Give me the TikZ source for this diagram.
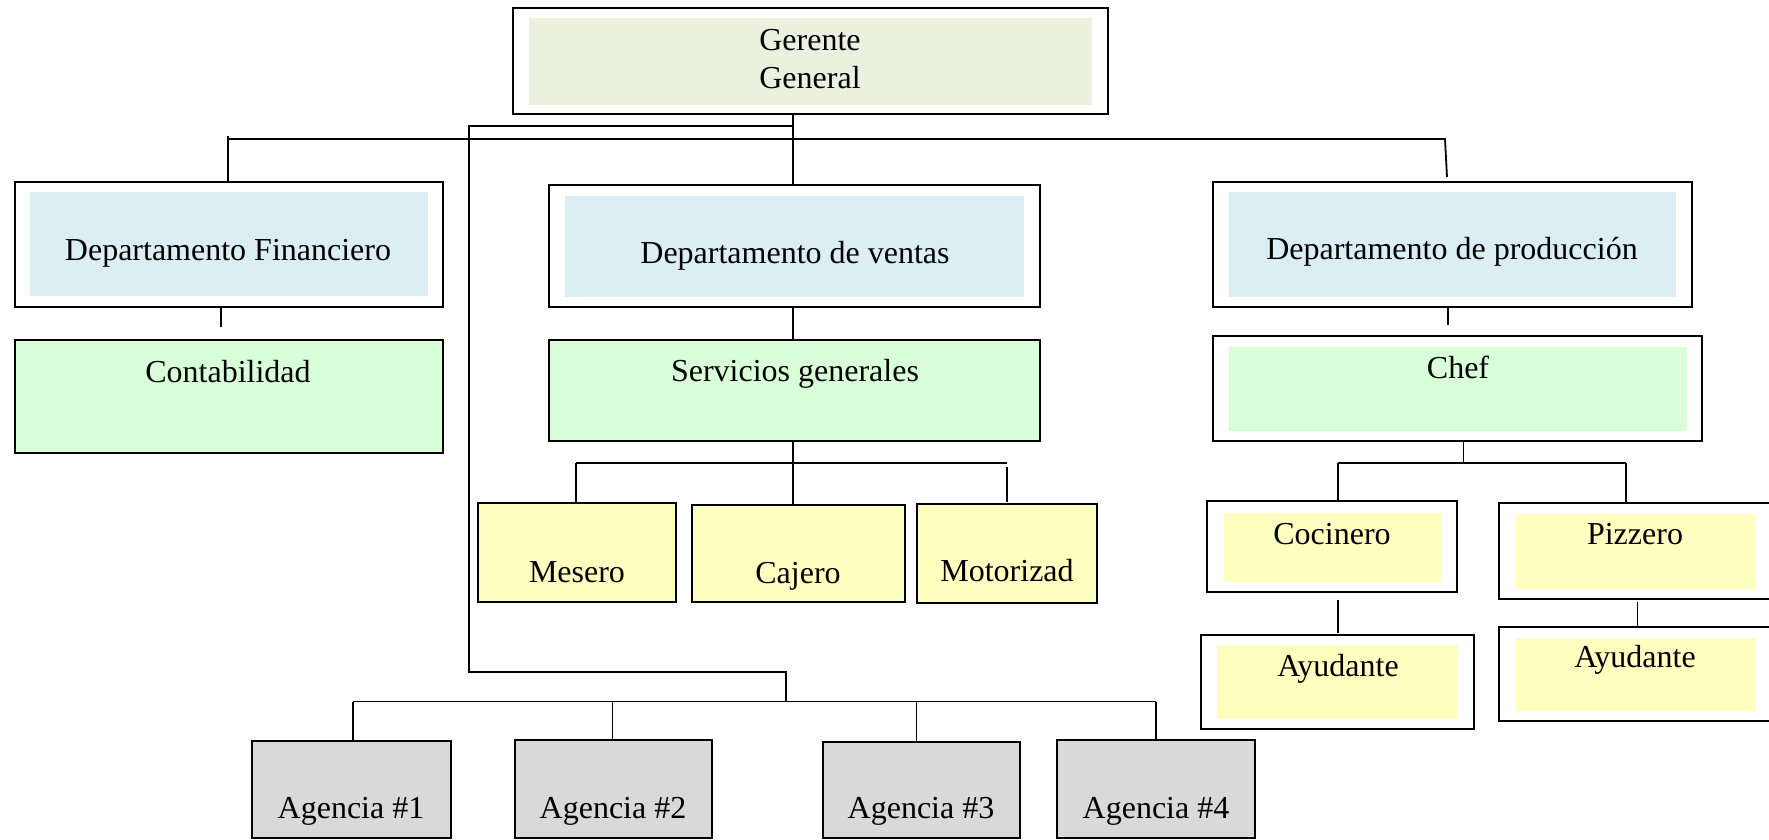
\documentclass[tikz,border=0pt]{standalone}
\usepackage{fontspec}
\setmainfont{Liberation Serif}
\usetikzlibrary{fit}
\definecolor{ggfill}{HTML}{EBF1DE}
\definecolor{bluefill}{HTML}{DAEEF3}
\definecolor{greenfill}{HTML}{D9FFD9}
\definecolor{yellowfill}{HTML}{FFFFC0}
\definecolor{grayfill}{HTML}{D9D9D9}
\tikzset{
  orgbox/.style={draw=black, line width=2pt, inner sep=0pt},
  lbl/.style={inner sep=0pt, font=\fontsize{32}{38.5}\selectfont, align=center},
  conn/.style={draw=black, line width=1.8pt},
}
\begin{document}
\begin{tikzpicture}[x=1pt,y=-1pt]
\useasboundingbox (0,0) rectangle (1769,840);
% inner fills
\fill[ggfill] (529,18) rectangle (1092,105);
\fill[bluefill] (30,192) rectangle (428,296);
\fill[bluefill] (565,196) rectangle (1024,297);
\fill[bluefill] (1229,192) rectangle (1676,297);
\fill[greenfill] (1229,347) rectangle (1687,431);
\fill[yellowfill] (1224,513) rectangle (1441,582);
\fill[yellowfill] (1217,645) rectangle (1458,719);
\fill[yellowfill] (1516,514) rectangle (1756,589);
\fill[yellowfill] (1516,638) rectangle (1756,711);
% boxes
\node[orgbox, fit={(513,8) (1108,114)}] (gg) {};
\node[orgbox, fit={(15,182) (443,307)}] (fin) {};
\node[orgbox, fit={(549,185) (1040,307)}] (ven) {};
\node[orgbox, fit={(1213,182) (1692,307)}] (prod) {};
\node[orgbox, fill=greenfill, fit={(15,340) (443,453)}] (cont) {};
\node[orgbox, fill=greenfill, fit={(549,340) (1040,441)}] (serv) {};
\node[orgbox, fit={(1213,336) (1702,441)}] (chef) {};
\node[orgbox, fill=yellowfill, fit={(478,503) (676,602)}] (mes) {};
\node[orgbox, fill=yellowfill, fit={(692,505) (905,602)}] (caj) {};
\node[orgbox, fill=yellowfill, fit={(917,504) (1097,603)}] (mot) {};
\node[orgbox, fit={(1207,501) (1457,592)}] (coc) {};
\node[orgbox, fit={(1201,635) (1474,729)}] (ay1) {};
\node[orgbox, fit={(1499,503) (1780,599)}] (piz) {};
\node[orgbox, fit={(1499,627) (1780,721)}] (ay2) {};
\node[orgbox, fill=grayfill, fit={(252,741) (451,838)}] (a1) {};
\node[orgbox, fill=grayfill, fit={(515,740) (712,838)}] (a2) {};
\node[orgbox, fill=grayfill, fit={(823,742) (1020,838)}] (a3) {};
\node[orgbox, fill=grayfill, fit={(1057,740) (1255,838)}] (a4) {};
% labels
\node[lbl] (tgg) at (810,59) {Gerente\\General};
\node[lbl] (tfin) at (228,253) {Departamento Financiero};
\node[lbl] (tven) at (795,256) {Departamento de ventas};
\node[lbl] (tprod) at (1452,252) {Departamento de producción};
\node[lbl] (tcont) at (228,372) {Contabilidad};
\node[lbl] (tserv) at (795,374) {Servicios generales};
\node[lbl] (tchef) at (1458,367) {Chef};
\node[lbl] (tmes) at (577,572) {Mesero};
\node[lbl] (tcaj) at (798,576) {Cajero};
\node[lbl] (tmot) at (1007,571) {Motorizad};
\node[lbl] (tcoc) at (1332,534) {Cocinero};
\node[lbl] (tay1) at (1338,669) {Ayudante};
\node[lbl] (tpiz) at (1635,534) {Pizzero};
\node[lbl] (tay2) at (1635,660) {Ayudante};
\node[lbl] (ta1) at (351,811) {Agencia \#1};
\node[lbl] (ta2) at (613,811) {Agencia \#2};
\node[lbl] (ta3) at (921,811) {Agencia \#3};
\node[lbl] (ta4) at (1156,811) {Agencia \#4};
% junction coordinates
\coordinate (jtop) at (793,126);
\coordinate (jl) at (228,136);
\coordinate (hbar) at (228,139);
\coordinate (hbarr) at (1445,139);
\coordinate (jprod) at (1447,177);
\coordinate (jag) at (469,126);
\coordinate (jagb) at (469,672);
\coordinate (jagc) at (786,672);
\coordinate (jagd) at (786,701.5);
\coordinate (ag1) at (353,701.5);
\coordinate (ag2) at (612.5,701.5);
\coordinate (ag3) at (916.5,701.5);
\coordinate (ag4) at (1156,701.5);
\coordinate (fin1) at (221,327);
\coordinate (prod1) at (1448,325);
\coordinate (sbl) at (576,463);
\coordinate (sbr) at (1007,463);
\coordinate (smot) at (1007,467);
\coordinate (smot2) at (1007,502);
\coordinate (cbar) at (1463.5,463);
\coordinate (cbl) at (1337.6,463);
\coordinate (cbr) at (1625.6,463);
\coordinate (coc1) at (1337.6,600);
\coordinate (coc2) at (1337.6,633);
\coordinate (piz1) at (1637.5,602);
\coordinate (piz2) at (1637.5,628);
% connectors
\draw[conn] (gg.south -| jtop) -- (ven.north -| jtop);
\draw[conn] (jl) -- (jl |- fin.north);
\draw[conn] (hbar) -- (hbarr) -- (jprod);
\draw[conn] (jtop) -- (jag) -- (jagb) -- (jagc) -- (jagd);
\draw[conn] (ag1) -- (ag4);
\draw[conn] (ag1) -- (ag1 |- a1.north);
\draw[conn] (ag2) -- (ag2 |- a2.north);
\draw[conn] (ag3) -- (ag3 |- a3.north);
\draw[conn] (ag4) -- (ag4 |- a4.north);
\draw[conn] (fin.south -| fin1) -- (fin1);
\draw[conn] (ven.south -| jtop) -- (serv.north -| jtop);
\draw[conn] (serv.south -| jtop) -- (caj.north -| jtop);
\draw[conn] (sbl) -- (sbr);
\draw[conn] (sbl) -- (sbl |- mes.north);
\draw[conn] (smot) -- (smot2);
\draw[conn] (prod.south -| prod1) -- (prod1);
\draw[conn] (chef.south -| cbar) -- (cbar);
\draw[conn] (cbl) -- (cbr);
\draw[conn] (cbl) -- (cbl |- coc.north);
\draw[conn] (cbr) -- (cbr |- piz.north);
\draw[conn] (coc1) -- (coc2);
\draw[conn] (piz1) -- (piz2);
\end{tikzpicture}
\end{document}
